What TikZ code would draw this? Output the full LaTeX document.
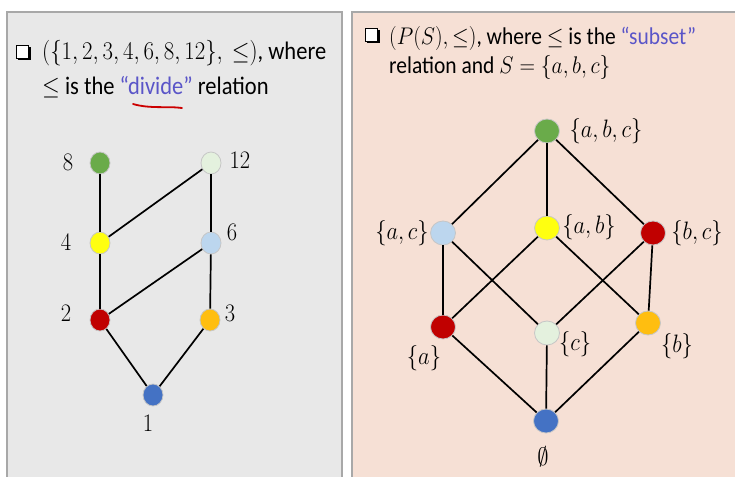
\RequirePackage{fix-cm}
\documentclass[tikz,border=0pt]{standalone}
\usepackage{fontspec}
\setmainfont{Carlito}
\usepackage{xcolor}
\usetikzlibrary{shapes.geometric}
\definecolor{leftbg}{HTML}{E8E8E8}
\definecolor{rightbg}{HTML}{F6E0D5}
\definecolor{panelline}{HTML}{A8A8A8}
\definecolor{wordblue}{HTML}{5A55C8}
\definecolor{ngreen}{HTML}{6AAB4A}
\definecolor{npale}{HTML}{E4F1DE}
\definecolor{nyellow}{HTML}{FFFF10}
\definecolor{nlblue}{HTML}{BCD6EE}
\definecolor{nred}{HTML}{C00000}
\definecolor{norange}{HTML}{FFBE10}
\definecolor{nblue}{HTML}{4472C4}
\tikzset{
  vert/.style={ellipse,minimum width=20pt,minimum height=22pt,inner sep=0pt,draw=gray!45,line width=0.8pt},
  bigvert/.style={ellipse,minimum width=25pt,minimum height=24pt,inner sep=0pt,draw=gray!45,line width=0.8pt},
  edge/.style={line width=1.7pt,black},
  lab/.style={font=\fontsize{22.5}{27}\selectfont,inner sep=1pt},
  headL/.style={font=\fontsize{22.5}{27}\selectfont,anchor=base west,inner sep=0pt},
  headR/.style={font=\fontsize{21.5}{26}\selectfont,anchor=base west,inner sep=0pt},
  panel/.style={draw=panelline,line width=1.2pt},
}
\newcommand{\tall}[1]{\scalebox{1}[1.12]{#1}}
\newcommand{\mL}[1]{\mbox{\fontsize{22.8}{27}\selectfont$#1$}}
\newcommand{\mR}[1]{\mbox{\fontsize{21.5}{26}\selectfont$#1$}}
\newcommand{\chkbox}[2]{%
  \fill[black] (#1+2,#2+2.5) rectangle (#1+14.5,#2+15.5);
  \filldraw[fill=white,draw=black,line width=0.8pt] (#1,#2) rectangle (#1+12,#2+13);
}
\begin{document}
\begin{tikzpicture}[x=1pt,y=-1pt]
\useasboundingbox (0,0) rectangle (735,476);
\fill[white] (0,0) rectangle (735,476);
% panels
\fill[leftbg] (7,12) rectangle (342,480);
\draw[panel] (7,480) -- (7,12) -- (342,12) -- (342,480);
\fill[rightbg] (352,12) rectangle (740,480);
\draw[panel] (352,480) -- (352,12) -- (740,12);

% left header
\chkbox{16}{45}
\node[headL] (lh1) at (42,60) {\tall{\mL{(\{1,2,3,4,6,8,12\},\ \le)}, where}};
\node[headL] (lh2) at (42,95) {\tall{\mL{\le} is the \textcolor{wordblue}{“divide”} relation}};
\draw[red!80!black,line width=1.8pt,line cap=round] (133,104) .. controls (150,109) and (168,106) .. (182,108);

% right header
\chkbox{365}{28}
\node[headR] (rh1) at (389,45) {\tall{\mR{(P(S),\le)}, where \mR{\le} is the \textcolor{wordblue}{“subset”}}};
\node[headR] (rh2) at (389,74) {\tall{relation and \mR{S=\{a,b,c\}}}};

% left graph
\node[vert,fill=ngreen]  (n8)  at (100,163) {};
\node[vert,fill=npale]   (n12) at (211,163) {};
\node[vert,fill=nyellow] (n4)  at (100,243) {};
\node[vert,fill=nlblue]  (n6)  at (211,243) {};
\node[vert,fill=nred]    (n2)  at (100,320) {};
\node[vert,fill=norange] (n3)  at (210,320) {};
\node[vert,fill=nblue]   (n1)  at (153,395) {};
\draw[edge] (n8) -- (n4);
\draw[edge] (n4) -- (n2);
\draw[edge] (n12) -- (n6);
\draw[edge] (n6) -- (n3);
\draw[edge] (n12) -- (n4);
\draw[edge] (n6) -- (n2);
\draw[edge] (n2) -- (n1);
\draw[edge] (n3) -- (n1);
\node[lab] (l8)  at (68,162)  {\tall{$8$}};
\node[lab] (l12) at (240,160) {\tall{$12$}};
\node[lab] (l4)  at (66,242)  {\tall{$4$}};
\node[lab] (l6)  at (232,232) {\tall{$6$}};
\node[lab] (l2)  at (66,313)  {\tall{$2$}};
\node[lab] (l3)  at (230,313) {\tall{$3$}};
\node[lab] (l1)  at (148,423) {\tall{$1$}};

% right graph
\node[bigvert,fill=ngreen]  (abc) at (547,131) {};
\node[bigvert,fill=nlblue]  (ac)  at (443,233) {};
\node[bigvert,fill=nyellow] (ab)  at (547,228) {};
\node[bigvert,fill=nred]    (bc)  at (653,233) {};
\node[bigvert,fill=nred]    (a)   at (443,327) {};
\node[bigvert,fill=npale]   (c)   at (547,333) {};
\node[bigvert,fill=norange] (b)   at (648,323) {};
\node[bigvert,fill=nblue]   (e)   at (546,421) {};
\draw[edge] (abc) -- (ac);
\draw[edge] (abc) -- (ab);
\draw[edge] (abc) -- (bc);
\draw[edge] (ac) -- (a);
\draw[edge] (ac) -- (c);
\draw[edge] (ab) -- (a);
\draw[edge] (ab) -- (b);
\draw[edge] (bc) -- (c);
\draw[edge] (bc) -- (b);
\draw[edge] (a) -- (e);
\draw[edge] (c) -- (e);
\draw[edge] (b) -- (e);
\node[lab] (labc) at (606,131) {\tall{$\{a,b,c\}$}};
\node[lab] (lac)  at (402,233) {\tall{$\{a,c\}$}};
\node[lab] (lab)  at (589,227) {\tall{$\{a,b\}$}};
\node[lab] (lbc)  at (697,233) {\tall{$\{b,c\}$}};
\node[lab] (la)   at (424,358) {\tall{$\{a\}$}};
\node[lab] (lc)   at (575,344) {\tall{$\{c\}$}};
\node[lab] (lb)   at (677,346) {\tall{$\{b\}$}};
\node[lab] (le)   at (543,457) {\tall{$\emptyset$}};
\end{tikzpicture}
\end{document}
